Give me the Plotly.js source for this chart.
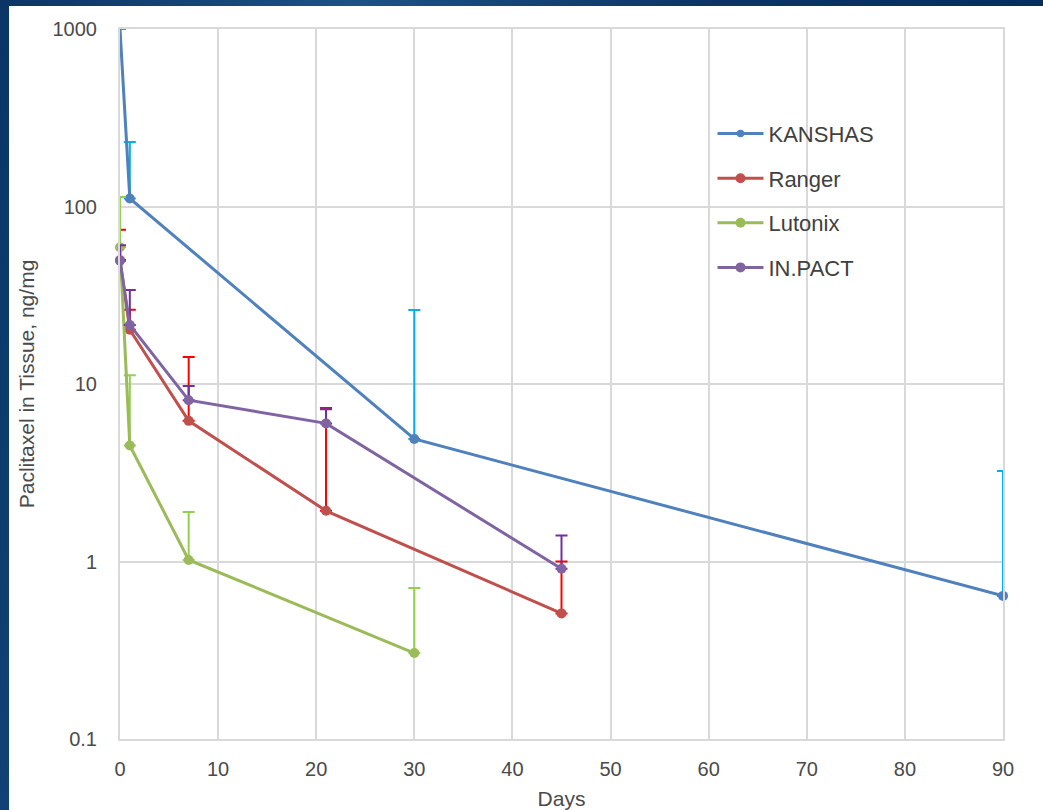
<!DOCTYPE html>
<html>
<head>
<meta charset="utf-8">
<script src="https://cdn.plot.ly/plotly-3.0.1.min.js"></script>
<style>
  html, body { margin: 0; padding: 0; }
  body { width: 1043px; height: 810px; background: #0b3a6c; position: relative; overflow: hidden;
         background-image: linear-gradient(100deg, #0a3566 0%, #1c5288 30%, #0a3566 60%, #002d5e 100%); }
  #chart { position: absolute; left: 9px; top: 6px; width: 1034px; height: 804px; background: #fff; }
</style>
</head>
<body>
<div id="chart"></div>
<script>
// Data (Days vs Paclitaxel ng/mg)
const kanshasDays = [0, 1, 30, 90];
const kanshasVals = [1000, 111, 4.9, 0.64];
const kanshasUpper = [0, 120, 21.2, 2.6];

const rangerDays = [0, 1, 7, 21, 45];
const rangerVals = [50, 20.2, 6.2, 1.93, 0.51];
const rangerUpper = [24, 6, 8, 5.4, 0.49];

const lutonixDays = [0, 1, 7, 30];
const lutonixVals = [59, 4.5, 1.02, 0.305];
const lutonixUpper = [54, 6.7, 0.88, 0.405];

const inpactDays = [0, 1, 7, 21, 45];
const inpactVals = [49.5, 21.5, 8.1, 6.0, 0.91];
const inpactUpper = [11, 12.4, 1.65, 1.2, 0.49];

const yTickVals = [0.1, 1, 10, 100, 1000];
const yTickText = ['0.1', '1', '10', '100', '1000'];

// marker at the clipped top-left start of KANSHAS is not visible in the reference
const kanshasMarkerSizes = [0, 10, 10, 10];

function series(name, days, vals, upper, lineColor, errColor, group, msize) {
  return {
    type: 'scatter', mode: 'lines+markers', name: name,
    x: days, y: vals, legendgroup: group,
    line: { color: lineColor, width: 3 },
    marker: { color: lineColor, size: msize, symbol: 'circle', opacity: 1, line: { width: 0 } },
    error_y: { type: 'data', symmetric: false, array: upper,
               arrayminus: upper.map(() => 0), color: errColor, thickness: 2, width: 6 },
    cliponaxis: false
  };
}

const traces = [
  series('KANSHAS', kanshasDays, kanshasVals, kanshasUpper, '#4f81bd', '#00b0f0', 'a', kanshasMarkerSizes),
  series('Ranger', rangerDays, rangerVals, rangerUpper, '#c0504d', '#ff0000', 'b', 10),
  series('Lutonix', lutonixDays, lutonixVals, lutonixUpper, '#9bbb59', '#92d050', 'c', 10),
  series('IN.PACT', inpactDays, inpactVals, inpactUpper, '#8064a2', '#7030a0', 'd', 10)
];

const fam = 'Liberation Sans, Arial, sans-serif';
const txt = '#4a4a4a';

const layout = {
  width: 1034, height: 804,
  margin: { l: 111, r: 40, t: 23, b: 71 },
  paper_bgcolor: '#ffffff', plot_bgcolor: '#ffffff',
  font: { family: fam, size: 20, color: txt },
  showlegend: true,
  legend: {
    x: 0.671, y: 0.882, xanchor: 'left', yanchor: 'top',
    bgcolor: 'rgba(0,0,0,0)', font: { family: fam, size: 22, color: '#404040' },
    tracegroupgap: 13, itemwidth: 46
  },
  xaxis: {
    range: [0, 90], dtick: 10, tick0: 0,
    showgrid: true, gridcolor: '#d9d9d9', gridwidth: 2,
    showline: true, linecolor: '#d9d9d9', linewidth: 2, mirror: true,
    zeroline: false, ticks: 'outside', ticklen: 11, tickcolor: 'rgba(0,0,0,0)',
    tickfont: { size: 20, color: txt, family: fam },
    title: { text: 'Days', font: { size: 21, color: txt, family: fam }, standoff: 12 }
  },
  yaxis: {
    type: 'log', range: [-1, 3],
    tickvals: yTickVals, ticktext: yTickText,
    showgrid: true, gridcolor: '#d9d9d9', gridwidth: 2,
    showline: true, linecolor: '#d9d9d9', linewidth: 2, mirror: true,
    zeroline: false, ticks: 'outside', ticklen: 17, tickcolor: 'rgba(0,0,0,0)',
    tickfont: { size: 20, color: txt, family: fam },
    title: { text: 'Paclitaxel in Tissue, ng/mg', font: { size: 21, color: txt, family: fam }, standoff: 12 }
  }
};

Plotly.newPlot('chart', traces, layout, { displayModeBar: false, staticPlot: true });
</script>
</body>
</html>
